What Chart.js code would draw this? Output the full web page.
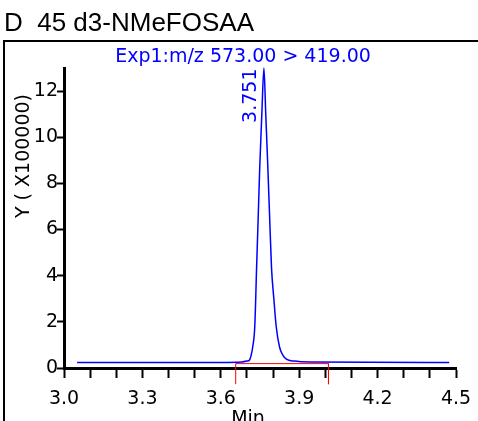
<!DOCTYPE html>
<html>
<head>
<meta charset="utf-8">
<script src="https://cdn.jsdelivr.net/npm/chart.js@4.4.1/dist/chart.umd.min.js"></script>
<style>
	html, body { margin: 0; padding: 0; background: #fff; }
	canvas { display: block; }
</style>
</head>
<body>
<canvas id="chrom" width="478" height="421"></canvas>
<script>
// Texts
const chartTitle = 'D  45 d3-NMeFOSAA';
const traceTitle = 'Exp1:m/z 573.00 > 419.00';
const yAxisLabel = 'Y ( X100000)';
const xAxisLabel = 'Min';
const peakLabel = '3.751';

// Chromatogram trace (min, signal x100000)
const times = [3.05, 3.60, 3.68, 3.70, 3.71, 3.716, 3.722, 3.73, 3.737, 3.743, 3.749, 3.757, 3.765,
	3.772, 3.780, 3.787, 3.794, 3.803, 3.812, 3.825, 3.838, 3.851, 3.88, 3.95, 4.474];
const signal = [0.24, 0.24, 0.26, 0.30, 0.35, 0.55, 0.9, 1.8, 4.35, 6.5, 8.7, 11.0, 13.0,
	11.0, 8.7, 6.5, 4.35, 3.0, 1.8, 0.9, 0.55, 0.38, 0.30, 0.26, 0.24];

// Integration baseline with its start / end markers
const baseTimes = [3.657, 3.657, 4.012, 4.012];
const baseValues = [-0.7, 0.19, 0.19, -0.7];

// Peak apex where the retention time label sits
const peakTime = 3.765;
const peakLabelAt = 11.8;

// Ticks
const xTicks = [3.0, 3.1, 3.2, 3.3, 3.4, 3.5, 3.6, 3.7, 3.8, 3.9, 4.0, 4.1, 4.2, 4.3, 4.4, 4.5];
const xTickLabels = ['3.0', '3.3', '3.6', '3.9', '4.2', '4.5'];
const yTicks = [0, 2, 4, 6, 8, 10, 12];

const tickFont = { family: '"DejaVu Sans"', size: 19 };

// Frame, header and rotated labels
const decor = {
	id: 'decor',
	afterDraw(chart) {
		const ctx = chart.ctx;
		const xs = chart.scales.x, ys = chart.scales.y;
		ctx.save();
		ctx.strokeStyle = '#000';
		ctx.lineWidth = 2;
		ctx.beginPath();
		ctx.moveTo(3, 41); ctx.lineTo(478, 41);
		ctx.moveTo(4, 40); ctx.lineTo(4, 421);
		ctx.stroke();

		ctx.fillStyle = '#000';
		ctx.textBaseline = 'alphabetic';
		ctx.textAlign = 'left';
		ctx.font = '26px "Liberation Sans"';
		ctx.fillText(chartTitle, 4, 31);

		ctx.font = '19px "DejaVu Sans"';
		ctx.textAlign = 'center';
		ctx.fillText(xAxisLabel, 248, 424);

		ctx.fillStyle = '#0000ff';
		ctx.fillText(traceTitle, 243, 62);

		// peak retention time, rotated
		ctx.save();
		ctx.translate(xs.getPixelForValue(peakTime) - 13, ys.getPixelForValue(peakLabelAt));
		ctx.rotate(-Math.PI / 2);
		ctx.textBaseline = 'middle';
		ctx.fillText(peakLabel, 0, 0);
		ctx.restore();

		// y axis title
		ctx.save();
		ctx.fillStyle = '#000';
		ctx.translate(24, 156);
		ctx.rotate(-Math.PI / 2);
		ctx.textBaseline = 'middle';
		ctx.fillText(yAxisLabel, 0, 0);
		ctx.restore();

		ctx.restore();
	},
};

new Chart(document.getElementById('chrom'), {
	type: 'scatter',
	data: {
		datasets: [
			{
				label: 'trace',
				data: times.map((t, i) => ({ x: t, y: signal[i] })),
				showLine: true,
				borderColor: '#0000ff',
				borderWidth: 1.5,
				pointRadius: 0,
				cubicInterpolationMode: 'monotone',
				clip: 4,
			},
			{
				label: 'baseline',
				data: baseTimes.map((t, i) => ({ x: t, y: baseValues[i] })),
				showLine: true,
				borderColor: '#ff0000',
				borderWidth: 1,
				pointRadius: 0,
				clip: false,
			},
		],
	},
	options: {
		responsive: false,
		animation: false,
		layout: { padding: { top: 68, right: 22, left: 0, bottom: 0 } },
		plugins: {
			legend: { display: false },
			tooltip: { enabled: false },
		},
		scales: {
			x: {
				type: 'linear',
				min: 3.0,
				max: 4.5,
				afterBuildTicks: (s) => {
					s.ticks = xTicks.map((v) => ({ value: v }));
				},
				afterFit: (s) => {
					s.height = 53;
					s.paddingLeft = 0;
					s.paddingRight = 0;
				},
				ticks: {
					autoSkip: false,
					maxRotation: 0,
					padding: 10,
					color: '#000',
					font: tickFont,
					callback: (v) => {
						const s = Number(v).toFixed(1);
						return xTickLabels.includes(s) ? s : '';
					},
				},
				grid: { drawOnChartArea: false, tickLength: 10, tickColor: '#000', tickWidth: 2 },
				border: { color: '#000', width: 3 },
			},
			y: {
				min: 0,
				max: 13,
				afterBuildTicks: (s) => {
					s.ticks = yTicks.map((v) => ({ value: v }));
				},
				afterFit: (s) => {
					s.width = 64;
					s.paddingTop = 0;
					s.paddingBottom = 0;
				},
				ticks: { padding: -1, color: '#000', font: tickFont },
				grid: { drawOnChartArea: false, tickLength: 7, tickColor: '#000', tickWidth: 2 },
				border: { color: '#000', width: 3 },
			},
		},
	},
	plugins: [decor],
});
</script>
</body>
</html>
